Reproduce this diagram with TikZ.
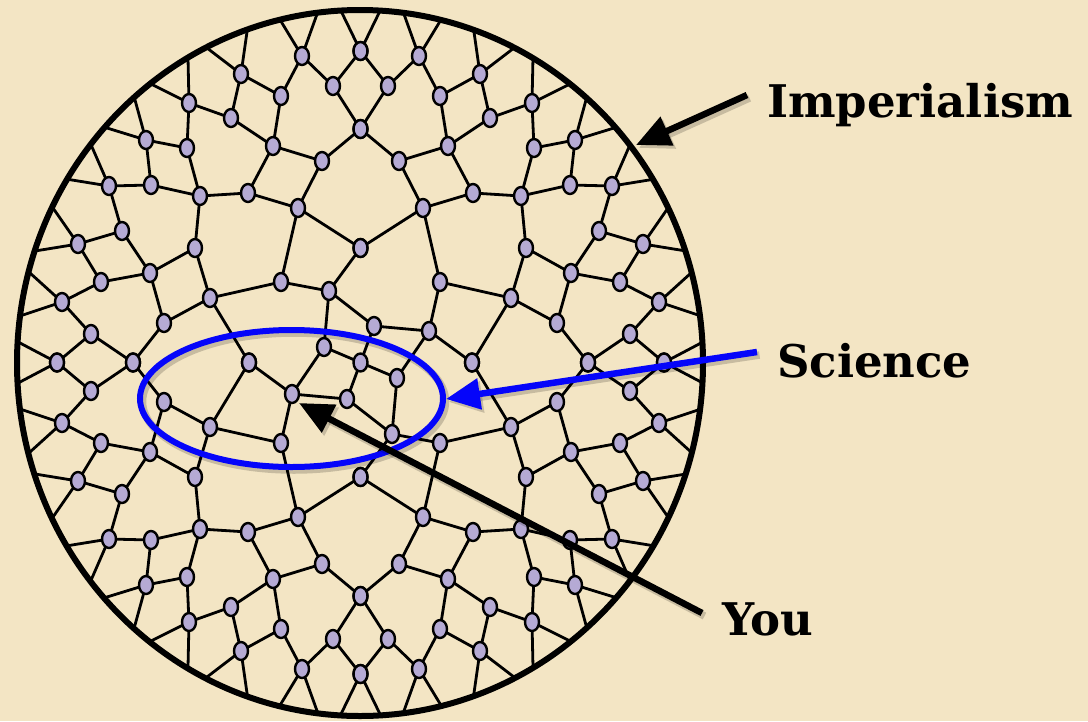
\documentclass[tikz,border=0pt]{standalone}
\usepackage{fontspec}
\setmainfont{DejaVu Serif}
\usetikzlibrary{calc,arrows.meta,shapes.geometric}
\definecolor{bg}{RGB}{243,229,196}
\definecolor{dotfill}{RGB}{181,170,212}
\definecolor{sciblue}{RGB}{5,5,250}
\begin{document}
\begin{tikzpicture}[x=1pt,y=-1pt,
  dot/.style={ellipse,draw=black,line width=2.4pt,fill=dotfill,minimum width=14pt,minimum height=18pt,inner sep=0pt},
  edge/.style={line width=2.8pt,black},
  arr/.style={line width=6.5pt,-{Triangle[length=34pt,width=30pt]}},
  shadowed/.style={preaction={draw=black,opacity=.18,line width=7.5pt,transform canvas={shift={(2.5pt,-3pt)}}}},
  lbl/.style={font=\fontsize{45}{50}\selectfont\bfseries,anchor=base west,inner sep=0pt}]
\fill[bg] (0,0) rectangle (1088,721);
\useasboundingbox (0,0) rectangle (1088,721);

% outer nodes of the top-left quadrant, mirrored into all four quadrants
\foreach \n/\x/\y in {T1/360.5/51, T2/360.5/129, T3/360.5/248,
  A/302/56, B/281/96, C/241/74, D/231/118, E/273/146, F/189/103, G/322/161,
  H/248/193, I/298/208, J/333/86, K/187/148, L/146/140, M/200/196, N/151/185,
  O/109/186, P/122/231, Q/78/244, R/150/273, S/101/282, U/62/302, V/195/248,
  W/164/323, X/91/334, Y/57/362.5, Z/133/362.5, AA/210/298, AB/281/282, AC/249/362.5}{
  \coordinate (\n-a) at (\x,\y);
  \coordinate (\n-b) at ({721-\x},\y);
  \coordinate (\n-c) at (\x,{725-\y});
  \coordinate (\n-d) at ({721-\x},{725-\y});
}
% inner nodes, repeated by a half turn
\foreach \n/\x/\y in {n1/329/291, n2/374/326, n3/429/331, n4/324/347}{
  \coordinate (\n) at (\x,\y);
  \coordinate (\n-r) at ({721-\x},{725-\y});
}
\coordinate (C0) at (360.5,362.5);

\begin{scope}
\clip (360,363) ellipse [x radius=343pt, y radius=353pt];
\foreach \u/\v in {A/B, A/J, B/C, B/E, C/D, D/F, D/E, E/G, E/H, G/T2, G/I,
  J/T1, J/T2, F/K, K/L, K/M, L/N, N/O, N/M, O/P, P/Q, P/R, Q/S, S/R, S/U,
  R/V, R/W, U/X, X/Y, X/Z, W/Z, W/AA, M/H, M/V, H/I, I/T3, I/AB, V/AA,
  AA/AB, AA/AC}{
  \foreach \s in {a,b,c,d}{\draw[edge] (\u-\s) -- (\v-\s);}
}
\foreach \u/\px/\py in {T1/342/13, A/282/23, A/316/17, C/207/48, C/247/32,
  F/188/58, F/153/85, L/135/100, L/107/128, O/92/147, O/72/180, Q/53/208,
  Q/35/251, U/30/273, U/23/315, Y/20/343}{
  \draw[edge] (\u-a) -- ($(\u-a)!1.8!(\px,\py)$);
  \draw[edge] (\u-b) -- ($(\u-b)!1.8!({721-\px},\py)$);
  \draw[edge] (\u-c) -- ($(\u-c)!1.8!(\px,{725-\py})$);
  \draw[edge] (\u-d) -- ($(\u-d)!1.8!({721-\px},{725-\py})$);
}
\foreach \u/\v in {T3-a/n1, AB-a/n1, n1/n2, n1/n4, n2/n3, n2/C0, n4/C0,
  n3/AB-b, n3/n4-r, n3/AC-b,
  T3-d/n1-r, AB-d/n1-r, n1-r/n2-r, n1-r/n4-r, n2-r/n3-r, n2-r/C0, n4-r/C0,
  n3-r/AB-c, n3-r/n4, n3-r/AC-a}{
  \draw[edge] (\u) -- (\v);
}
\end{scope}

\foreach \n in {T1,T2,T3,A,B,C,D,E,F,G,H,I,J,K,L,M,N,O,P,Q,R,S,U,V,W,X,Y,Z,AA,AB,AC}{
  \foreach \s in {a,b,c,d}{\node[dot] (dot-\n-\s) at (\n-\s) {};}
}
\foreach \n in {n1,n2,n3,n4,n1-r,n2-r,n3-r,n4-r,C0}{
  \node[dot] (dot-\n) at (\n) {};
}

% border
\draw[line width=6pt] (360,363) ellipse [x radius=343pt, y radius=353pt];

% science region
\node[ellipse,draw=sciblue,line width=6pt,minimum width=303pt,minimum height=137pt,inner sep=0pt,shadowed] (sci-region) at (291.5,398.5) {};

% labels
\node[lbl] (imp) at (767,117) {Imperialism};
\node[lbl] (sci) at (777,377) {Science};
\node[lbl] (you) at (722,635) {You};

\coordinate (imp-from) at (747,95);
\coordinate (imp-to) at (636,145);
\coordinate (sci-from) at (757,352);
\coordinate (sci-to) at (446,399);
\coordinate (you-from) at (702,613);
\coordinate (you-to) at (299,403);

\draw[arr,shadowed] (imp-from) -- (imp-to);
\draw[arr,sciblue,shadowed] (sci-from) -- (sci-to);
\draw[arr,shadowed] (you-from) -- (you-to);
\end{tikzpicture}
\end{document}
